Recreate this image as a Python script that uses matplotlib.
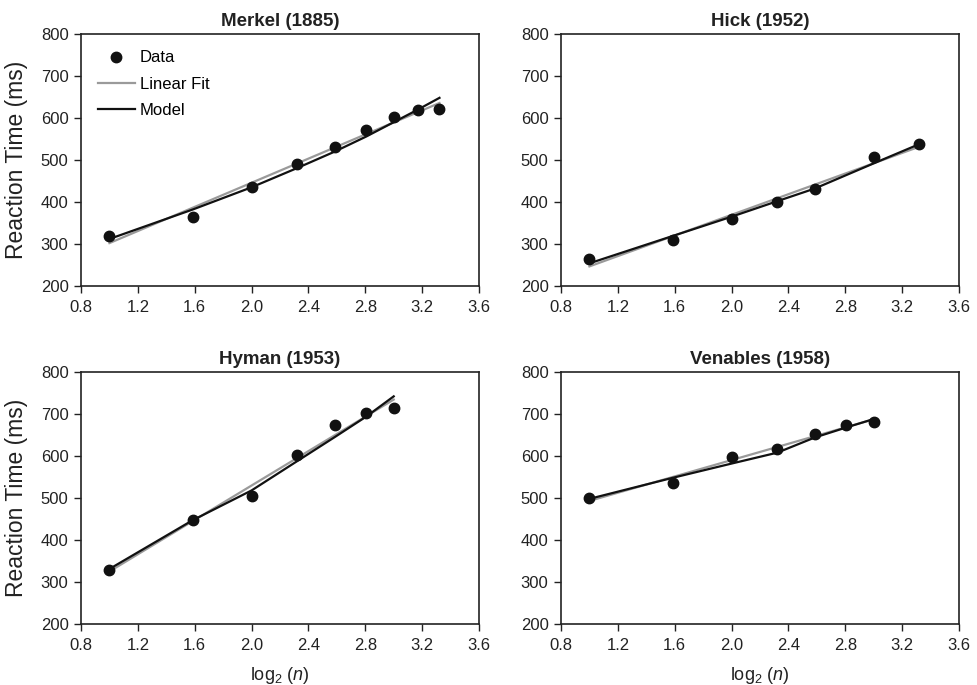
import numpy as np
import matplotlib
matplotlib.use('Agg')
import matplotlib.pyplot as plt

plt.rcParams['font.family'] = ['Liberation Sans', 'DejaVu Sans']
plt.rcParams['mathtext.fontset'] = 'custom'
plt.rcParams['mathtext.rm'] = 'Liberation Sans'
plt.rcParams['mathtext.it'] = 'Liberation Sans:italic'

# log2(n) positions
x_merkel = np.log2([2, 3, 4, 5, 6, 7, 8, 9, 10])
x_hick = np.log2([2, 3, 4, 5, 6, 8, 10])
x_hyman = np.log2([2, 3, 4, 5, 6, 7, 8])
x_venables = np.log2([2, 3, 4, 5, 6, 7, 8])

# reaction times (ms)
rt_merkel = [320, 365, 435, 490, 532, 572, 603, 618, 622]
rt_hick = [264, 310, 359, 401, 430, 507, 538]
rt_hyman = [328, 447, 504, 603, 674, 703, 715]
rt_venables = [500, 535, 598, 616, 652, 675, 682]

# model predictions
model_merkel = [312, 382, 435, 481, 520, 556, 590, 620, 648]
model_hick = [254, 319, 365, 402, 432, 492, 538]
model_hyman = [331, 447, 518, 588, 645, 694, 742]
model_venables = [498, 548, 582, 608, 644, 668, 688]

titles = ['Merkel (1885)', 'Hick (1952)', 'Hyman (1953)', 'Venables (1958)']
xs = [x_merkel, x_hick, x_hyman, x_venables]
rts = [rt_merkel, rt_hick, rt_hyman, rt_venables]
models = [model_merkel, model_hick, model_hyman, model_venables]

fig = plt.figure(figsize=(9.77, 6.85), dpi=100)
W, H = 977, 685
boxes = [(81, 34), (561, 34), (81, 372), (561, 372)]
pw, ph = 398, 252
ink = '#222222'

for i, (left, top) in enumerate(boxes):
    ax = fig.add_axes([left / W, 1 - (top + ph) / H, pw / W, ph / H])
    x = np.asarray(xs[i])
    y = np.asarray(rts[i])
    b, a = np.polyfit(x, y, 1)
    ax.plot(x, a + b * x, color='#9a9a9a', lw=1.6, label='Linear Fit', zorder=2)
    ax.plot(x, models[i], color='#111111', lw=1.6, label='Model', zorder=3)
    ax.plot(x, y, 'o', color='#111111', ms=7.5, label='Data', zorder=4)

    ax.set_xlim(0.8, 3.6)
    ax.set_ylim(200, 800)
    xt = np.arange(0.8, 3.61, 0.4)
    ax.set_xticks(xt)
    ax.set_xticklabels(['%.1f' % v for v in xt])
    ax.set_yticks(range(200, 801, 100))
    ax.tick_params(direction='out', length=5, width=1, labelsize=12,
                   colors=ink)
    ax.tick_params(axis='x', pad=5)
    ax.tick_params(axis='y', pad=4)
    for s in ax.spines.values():
        s.set_linewidth(1.2)
        s.set_color(ink)
    ax.set_title(titles[i], fontsize=13.5, fontweight='bold', color=ink, pad=6)

    if i % 2 == 0:
        ax.set_ylabel('Reaction Time (ms)', fontsize=16.5, color=ink, labelpad=9)
    if i >= 2:
        ax.set_xlabel(r'log$_2$ ($\mathit{n}$)', fontsize=13, color=ink, labelpad=9)
    if i == 0:
        h, l = ax.get_legend_handles_labels()
        order = [2, 0, 1]
        ax.legend([h[k] for k in order], [l[k] for k in order], loc='upper left',
                  frameon=False, fontsize=12, handlelength=2.2, handletextpad=0.3,
                  labelspacing=0.68, borderaxespad=0.4,
                  bbox_to_anchor=(0.009, 0.988))

fig.savefig('out.png', dpi=100)
